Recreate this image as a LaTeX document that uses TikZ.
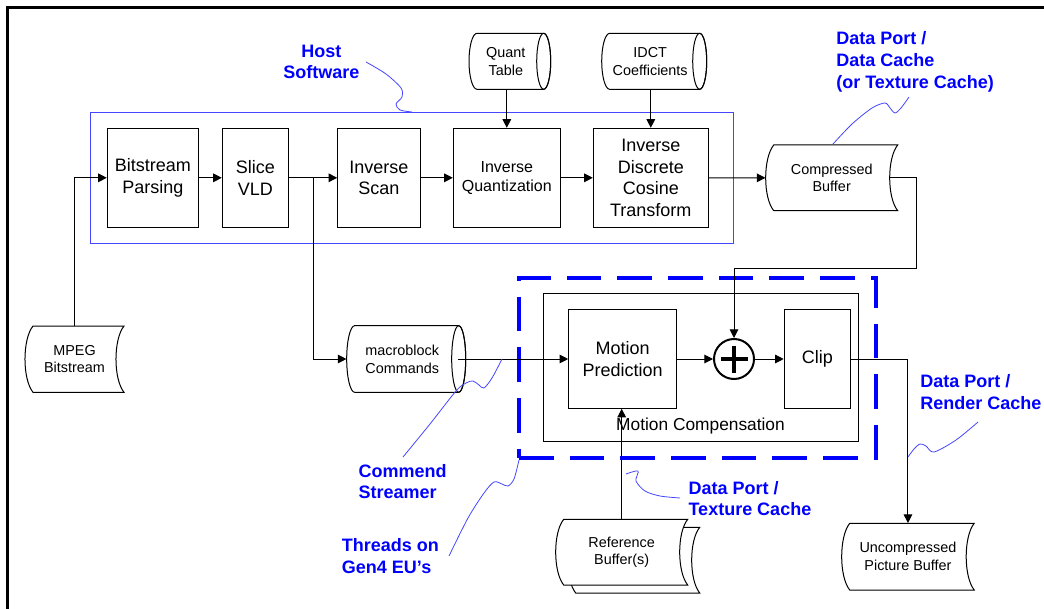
\documentclass[tikz,border=0pt]{standalone}
\usepackage{fontspec}
\setmainfont{Liberation Sans}
\usetikzlibrary{arrows.meta, fit, calc}
\definecolor{hostblue}{RGB}{70,70,255}
\definecolor{noteblue}{RGB}{0,0,255}

% stored data shape: name, left, top, right, bottom, text
\newcommand{\stored}[6]{
\draw[fill=white, line width=0.75pt] ({#2+8},#3) -- (#4,#3)
  .. controls ({#4-10.7},{#3+0.2*(#5-#3)}) and ({#4-10.7},{#5-0.2*(#5-#3)}) .. (#4,#5)
  -- ({#2+8},#5)
  .. controls ({#2-2.7},{#5-0.2*(#5-#3)}) and ({#2-2.7},{#3+0.2*(#5-#3)}) .. ({#2+8},#3) -- cycle;
\node[small, align=center, inner sep=0pt, wh={#4-#2}{#5-#3}] (#1) at ({(#2+#4)/2},{(#3+#5)/2}) {#6};
}
% horizontal cylinder: name, left, top, right, bottom, text
\newcommand{\drum}[6]{
\draw[fill=white, line width=0.75pt] ({#2+8},#3) -- ({#4-7},#3)
  arc[start angle=270, end angle=450, x radius=7, y radius={(#5-#3)/2}]
  -- ({#2+8},#5) arc[start angle=90, end angle=270, x radius=8, y radius={(#5-#3)/2}] -- cycle;
\draw[line width=0.75pt] ({#4-7},{(#3+#5)/2}) ellipse [x radius=7, y radius={(#5-#3)/2}];
\node[small, align=center, inner sep=0pt, wh={#4-8-#2}{#5-#3}] (#1) at ({(#2+#4-8)/2},{(#3+#5)/2}) {#6};
}

\begin{document}
\begin{tikzpicture}[x=0.75pt, y=-0.75pt,
  wh/.style 2 args={minimum width={(#1)*0.75pt}, minimum height={(#2)*0.75pt}},
  box/.style={draw, line width=0.75pt, inner sep=0pt, align=center},
  big/.style={font=\fontsize{13.5}{16.2}\selectfont},
  mid/.style={font=\fontsize{12}{14.5}\selectfont},
  small/.style={font=\fontsize{10.8}{13.3}\selectfont},
  note/.style={text=noteblue, font=\bfseries\fontsize{13.5}{16.3}\selectfont, inner sep=0pt, align=left, anchor=west},
  wiggle/.style={hostblue, line width=0.6pt},
  arr/.style={-{Triangle[length=6.5pt,width=6.5pt]}, line width=0.75pt}]
\useasboundingbox (0,0) rectangle (1044,609);
\draw[line width=2pt] (7.5,609) -- (7.5,7.5) -- (1044,7.5);

% host software
\node[draw=hostblue, line width=1pt, inner sep=0pt, fit={(90.7,112.3) (733.3,243.7)}] (host) {};
\node[box, big, wh={91}{99}] (bp) at (152.8,177.8) {Bitstream\\Parsing};
\node[box, big, wh={66}{99}] (vld) at (255.3,177.8) {Slice\\VLD};
\node[box, big, wh={82.3}{99}] (scan) at (378.85,177.8) {Inverse\\Scan};
\node[box, mid, wh={107}{99}] (iq) at (506.8,177.8) {Inverse\\Quantization};
\node[box, big, wh={115}{99}] (idct) at (650.8,177.8) {Inverse\\Discrete\\Cosine\\Transform};

\drum{qt}{469}{33.3}{550.7}{89.3}{Quant\\Table}
\drum{ic}{601.7}{33.3}{706.7}{89.3}{IDCT\\Coefficients}
\drum{mbc}{346.7}{325.7}{465.7}{392.3}{macroblock\\Commands}
\stored{mpeg}{25}{326}{124}{392.3}{MPEG\\Bitstream}
\stored{cb}{765.7}{145}{897.7}{210.7}{Compressed\\Buffer}
\stored{refback}{567.7}{527.3}{699.7}{593}{}
\stored{ref}{555.7}{519.3}{687.7}{585}{Reference\\Buffer(s)}
\stored{ucb}{841.7}{523.3}{974.2}{590}{Uncompressed\\Picture Buffer}

% motion compensation on the EUs
\node[draw=noteblue, line width=3pt, dash pattern=on 26pt off 12pt, inner sep=0pt, fit={(519,277.7) (875.5,457.7)}] (eu) {};
\node[box, fit={(543.6,293.3) (858.4,441.3)}] (mc) {};
\node[font=\fontsize{13}{15.6}\selectfont] (mclabel) at (700.5,426.5) {Motion Compensation};
\node[box, big, wh={107.7}{98.6}] (mp) at (622.55,359) {Motion\\Prediction};
\node[box, big, wh={66.2}{98.6}] (clip) at (817.3,359) {Clip};
\node[circle, draw, line width=1.5pt, minimum size=30pt, inner sep=0pt] (sum) at (734,359) {};
\draw[line width=2.6pt] ($(sum)+(-13.5,0)$) -- ($(sum)+(13.5,0)$) ($(sum)+(0,-13.5)$) -- ($(sum)+(0,13.5)$);

\coordinate (branch) at ($(vld.east)+(24.7,0)$);
\coordinate (bend) at (916,268.3);
\draw[arr] (mpeg.north) |- (bp.west);
\draw[arr] (bp) -- (vld);
\draw[arr] (vld) -- (scan);
\draw[arr] (branch) |- (mbc.west);
\draw[arr] (scan) -- (iq);
\draw[arr] (iq) -- (idct);
\draw[arr] (idct) -- (cb.west);
\draw[arr] (iq.north |- qt.south) -- (iq.north);
\draw[arr] (idct.north |- ic.south) -- (idct.north);
\draw[arr] ($(cb.east)+(-8,0)$) -| (bend) -| (sum.north);
\draw[arr] (mbc.east) -- (mp.west);
\draw[arr] (mp) -- (sum);
\draw[arr] (sum) -- (clip);
\draw[arr] (clip.east) -| (ucb.north);
\draw[arr] (ref.north) -- (ref.north |- mp.south);

% callouts
\node[note, align=center, anchor=center] (hostlabel) at (321.3,61.9) {Host\\Software};
\node[note] (dclabel) at (836,61.7) {Data Port /\\Data Cache\\(or Texture Cache)};
\node[note] (cslabel) at (358.3,481.5) {Commend\\Streamer};
\node[note] (eulabel) at (341.7,555.8) {Threads on\\Gen4 EU’s};
\node[note] (tclabel) at (688.3,498.5) {Data Port /\\Texture Cache};
\node[note] (rclabel) at (920.2,391.8) {Data Port /\\Render Cache};

\draw[wiggle] plot[smooth] coordinates {(366,62) (386,74) (401,88) (402,97) (396,104) (400,110) (412,112)};
\draw[wiggle] plot[smooth] coordinates {(909,97) (901,108) (895,113) (890,108) (885,103) (872,108) (852,124) (833,144)};
\draw[wiggle] plot[smooth] coordinates {(403,457) (430,424) (456,391) (466,383) (473,381) (479,385) (484,388) (492,378) (502,359)};
\draw[wiggle] plot[smooth] coordinates {(449,556) (468,518) (484,493) (494,482) (502,484) (508,486) (514,479) (519,460)};
\draw[wiggle] plot[smooth] coordinates {(626,474) (638,471) (636,481) (645,491) (660,496) (680,498)};
\draw[wiggle] plot[smooth] coordinates {(978,422) (956,440) (934,452) (926,446) (920,444) (914,449) (908,457)};
\end{tikzpicture}
\end{document}
